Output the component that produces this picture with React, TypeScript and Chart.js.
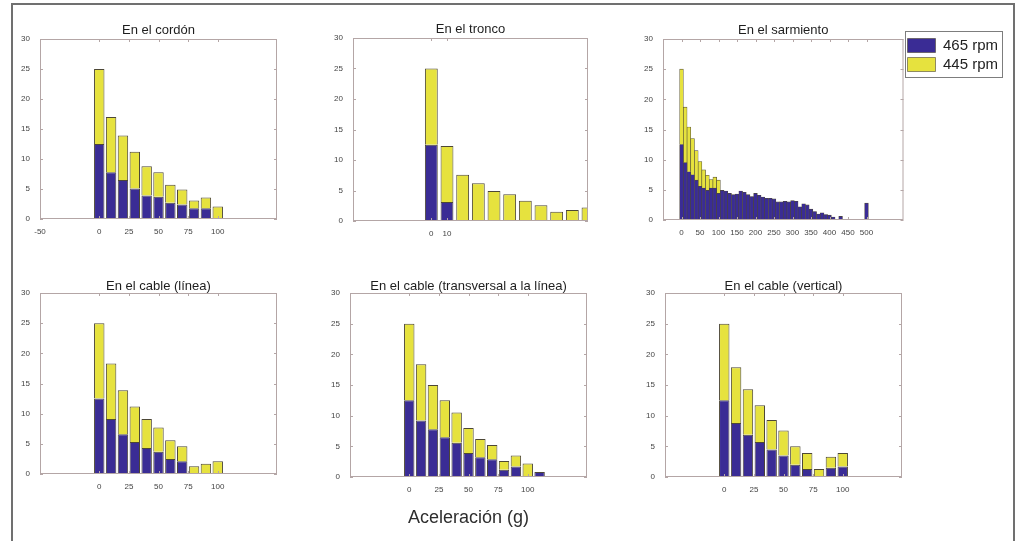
import React, { useEffect, useRef } from 'react';
import { Chart, registerables } from 'chart.js';

Chart.register(...registerables);

// ---------- data ----------
const SERIES_465 = '465 rpm';
const SERIES_445 = '445 rpm';

// En el cordón
const cordonBins = [0, 10, 20, 30, 40, 50, 60, 70, 80, 90, 100];
const cordon465 = [12.5, 7.8, 6.5, 5.1, 3.9, 3.7, 2.7, 2.4, 1.8, 1.8, 0];
const cordon445 = [12.5, 9.2, 7.4, 6.1, 4.9, 4.1, 3.0, 2.5, 1.3, 1.8, 2.1];
const cordonTicks = [-50, 0, 25, 50, 75, 100];

// En el tronco
const troncoBins = [0, 10, 20, 30, 40, 50, 60, 70, 80, 90, 100];
const tronco465 = [12.5, 3.1, 0, 0, 0, 0, 0, 0, 0, 0, 0];
const tronco445 = [12.5, 9.2, 7.6, 6.2, 4.9, 4.4, 3.3, 2.6, 1.5, 1.8, 2.2];
const troncoTicks = [0, 10];

// En el sarmiento
const sarmientoBins465 = [
  0, 10, 20, 30, 40, 50, 60, 70, 80, 90, 100, 110, 120, 130, 140, 150, 160,
  170, 180, 190, 200, 210, 220, 230, 240, 250, 260, 270, 280, 290, 300, 310,
  320, 330, 340, 350, 360, 370, 380, 390, 400, 410, 420, 430, 440, 450, 460,
  470, 480, 490, 500,
];
const sarmiento465 = [
  12.5, 9.5, 8.0, 7.5, 6.6, 5.6, 5.3, 4.9, 5.3, 5.3, 4.4, 4.9, 4.8, 4.4, 4.2,
  4.3, 4.8, 4.6, 4.2, 3.9, 4.4, 4.1, 3.8, 3.6, 3.6, 3.5, 3.0, 3.0, 3.1, 3.0,
  3.2, 3.1, 2.2, 2.7, 2.5, 1.8, 1.4, 1.0, 1.2, 0.9, 0.8, 0.5, 0, 0.6, 0, 0, 0,
  0, 0, 0, 2.8,
];
const sarmientoBins445 = [0, 10, 20, 30, 40, 50, 60, 70, 80, 90, 100];
const sarmiento445 = [12.5, 9.2, 7.4, 6.0, 4.9, 4.1, 3.0, 2.5, 1.4, 1.8, 2.2];
const sarmientoTicks = [0, 50, 100, 150, 200, 250, 300, 350, 400, 450, 500];

// En el cable (línea)
const lineaBins = [0, 10, 20, 30, 40, 50, 60, 70, 80, 90, 100];
const linea465 = [12.5, 9.1, 6.6, 5.3, 4.3, 3.7, 2.5, 2.1, 0, 0, 0];
const linea445 = [12.5, 9.2, 7.3, 5.9, 4.8, 4.0, 3.1, 2.5, 1.3, 1.7, 2.1];

// En el cable (transversal a la línea)
const transBins = [0, 10, 20, 30, 40, 50, 60, 70, 80, 90, 100, 110];
const trans465 = [12.5, 9.2, 7.8, 6.5, 5.6, 3.9, 3.2, 2.9, 1.2, 1.7, 0, 0.8];
const trans445 = [12.5, 9.2, 7.2, 6.0, 4.9, 4.1, 3.0, 2.3, 1.4, 1.8, 2.2, 0];

// En el cable (vertical)
const verticalBins = [0, 10, 20, 30, 40, 50, 60, 70, 80, 90, 100];
const vertical465 = [12.5, 8.8, 6.9, 5.7, 4.5, 3.5, 2.0, 1.3, 0, 1.5, 1.7];
const vertical445 = [12.5, 9.1, 7.4, 6.0, 4.8, 4.1, 3.0, 2.6, 1.3, 1.8, 2.2];

const cableTicks = [0, 25, 50, 75, 100];
const X_LABEL = 'Aceleración (g)';

// ---------- styles ----------
const FONT = "'Liberation Sans', Arial, Helvetica, sans-serif";
const BLUE = '#3a2c95';
const YELLOW = '#e6e23e';
const EDGE = '#4d4736';
const AXIS_BOX = '#b4a6a6';
const TICK_TEXT = '#444444';
const Y_AXIS_W = 40;
const TITLE_SIZE = 13;
const LEGEND_W = 95;
const LEGEND_PAD_RIGHT = 10;

type PanelCfg = {
  title: string;
  bins465: number[];
  v465: number[];
  bins445: number[];
  v445: number[];
  xMin: number;
  xMax: number;
  xTicks: number[];
  box: [number, number, number, number];
  titlePadBottom: number;
  barPct: number;
  edge: number;
  legend?: boolean;
  xTitle?: string;
};

const PANELS: PanelCfg[] = [
  { title: 'En el cordón', bins465: cordonBins, v465: cordon465, bins445: cordonBins, v445: cordon445,
    xMin: -50, xMax: 150, xTicks: cordonTicks, box: [40, 39, 277, 219], titlePadBottom: 2, barPct: 0.88, edge: 1 },
  { title: 'En el tronco', bins465: troncoBins, v465: tronco465, bins445: troncoBins, v445: tronco445,
    xMin: -50, xMax: 100, xTicks: troncoTicks, box: [353, 38, 588, 221], titlePadBottom: 2, barPct: 0.82, edge: 1 },
  { title: 'En el sarmiento', bins465: sarmientoBins465, v465: sarmiento465, bins445: sarmientoBins445, v445: sarmiento445,
    xMin: -50, xMax: 600, xTicks: sarmientoTicks, box: [663, 39, 902, 220], titlePadBottom: 2, barPct: 1, edge: 0.6, legend: true },
  { title: 'En el cable (línea)', bins465: lineaBins, v465: linea465, bins445: lineaBins, v445: linea445,
    xMin: -50, xMax: 150, xTicks: cableTicks, box: [40, 293, 277, 474], titlePadBottom: 0, barPct: 0.88, edge: 1 },
  { title: 'En el cable (transversal a la línea)', bins465: transBins, v465: trans465, bins445: transBins, v445: trans445,
    xMin: -50, xMax: 150, xTicks: cableTicks, box: [350, 293, 587, 477], titlePadBottom: 0, barPct: 0.88, edge: 1, xTitle: X_LABEL },
  { title: 'En el cable (vertical)', bins465: verticalBins, v465: vertical465, bins445: verticalBins, v445: vertical445,
    xMin: -50, xMax: 150, xTicks: cableTicks, box: [665, 293, 902, 477], titlePadBottom: 0, barPct: 0.88, edge: 1 },
];

const axesBox = {
  id: 'axesBox',
  afterDatasetsDraw(chart: any) {
    const { ctx, chartArea } = chart;
    const { left, top, right, bottom } = chartArea;
    const x = chart.scales.x;
    const y = chart.scales.y;
    ctx.save();
    ctx.strokeStyle = AXIS_BOX;
    ctx.lineWidth = 1;
    ctx.strokeRect(left + 0.5, top + 0.5, right - left - 1, bottom - top - 1);
    ctx.beginPath();
    x.ticks.forEach((t: any) => {
      const px = Math.round(x.getPixelForValue(t.value)) + 0.5;
      ctx.moveTo(px, bottom);
      ctx.lineTo(px, bottom - 3);
      ctx.moveTo(px, top);
      ctx.lineTo(px, top + 3);
    });
    y.ticks.forEach((t: any) => {
      const py = Math.round(y.getPixelForValue(t.value)) + 0.5;
      ctx.moveTo(left, py);
      ctx.lineTo(left + 3, py);
      ctx.moveTo(right, py);
      ctx.lineTo(right - 3, py);
    });
    ctx.stroke();
    ctx.restore();
  },
};

const legendFrame = {
  id: 'legendFrame',
  beforeDraw(chart: any) {
    const lg = chart.legend;
    if (!lg) return;
    const h = lg.height;
    lg.top = chart.chartArea.top - 5;
    lg.bottom = lg.top + h;
  },
  afterDraw(chart: any) {
    const lg = chart.legend;
    if (!lg) return;
    const ctx = chart.ctx;
    ctx.save();
    ctx.strokeStyle = '#7d7d7d';
    ctx.lineWidth = 1;
    const x0 = Math.round(lg.left) + 1.5;
    const x1 = Math.round(lg.left + lg.width) + 5.5;
    ctx.strokeRect(x0, Math.round(lg.top) - 2.5, x1 - x0, 46);
    ctx.restore();
  },
};

function Panel({ cfg }: { cfg: PanelCfg }) {
  const ref = useRef<HTMLCanvasElement>(null);
  const [L, T, R, B] = cfg.box;
  const titleH = TITLE_SIZE + 2 + cfg.titlePadBottom;
  const xH = cfg.xTitle ? 52 : 20;
  const padRight = cfg.legend ? LEGEND_PAD_RIGHT : 10;
  const canvasLeft = L - Y_AXIS_W;
  const canvasTop = T - titleH;
  const w = Math.round(R - canvasLeft + (cfg.legend ? LEGEND_W : 0) + padRight);
  const h = Math.round(B - canvasTop + xH);

  useEffect(() => {
    if (!ref.current) return;
    const tickFont = { size: 8, family: FONT };
    const chart = new Chart(ref.current, {
      type: 'bar',
      data: {
        datasets: [
          {
            label: SERIES_465,
            data: cfg.bins465.map((x, i) => ({ x, y: cfg.v465[i] })),
            backgroundColor: BLUE,
            borderColor: EDGE,
            borderWidth: cfg.edge,
            barPercentage: cfg.barPct,
            categoryPercentage: 1,
          },
          {
            label: SERIES_445,
            data: cfg.bins445.map((x, i) => ({ x, y: cfg.v445[i] })),
            backgroundColor: YELLOW,
            borderColor: EDGE,
            borderWidth: cfg.edge,
            barPercentage: cfg.barPct,
            categoryPercentage: 1,
          },
        ],
      },
      options: {
        responsive: false,
        animation: false,
        events: [],
        layout: { padding: { left: 0, top: 0, bottom: 0, right: padRight } },
        scales: {
          x: {
            type: 'linear',
            min: cfg.xMin,
            max: cfg.xMax,
            offset: false,
            stacked: true,
            grid: { display: false, drawTicks: false, offset: false },
            border: { display: false },
            ticks: {
              autoSkip: false,
              maxRotation: 0,
              minRotation: 0,
              padding: 8,
              font: tickFont,
              color: TICK_TEXT,
              callback: (v: any) => String(v),
            },
            afterBuildTicks: (s: any) => {
              s.ticks = cfg.xTicks.map((v) => ({ value: v }));
            },
            afterFit: (s: any) => {
              s.height = xH;
            },
            title: cfg.xTitle
              ? { display: true, text: cfg.xTitle, color: '#2e2e2e', font: { size: 18, family: FONT }, padding: 0 }
              : { display: false },
          },
          y: {
            type: 'linear',
            min: 0,
            max: 30,
            stacked: true,
            grid: { display: false, drawTicks: false },
            border: { display: false },
            ticks: {
              stepSize: 5,
              padding: 10,
              font: tickFont,
              color: TICK_TEXT,
              callback: (v: any) => String(v),
            },
            afterFit: (s: any) => {
              s.width = Y_AXIS_W;
            },
          },
        },
        plugins: {
          title: {
            display: true,
            text: cfg.title,
            fullSize: false,
            color: '#1e1e1e',
            font: { size: TITLE_SIZE, lineHeight: 1, family: FONT, weight: 'normal' },
            padding: { top: 2, bottom: cfg.titlePadBottom },
          },
          legend: cfg.legend
            ? {
                display: true,
                position: 'right',
                align: 'start',
                fullSize: false,
                labels: {
                  boxWidth: 28,
                  boxHeight: 14,
                  padding: 4,
                  color: '#222',
                  font: { size: 15, family: FONT },
                },
              }
            : { display: false },
          tooltip: { enabled: false },
        },
      } as any,
      plugins: cfg.legend ? [axesBox, legendFrame] : [axesBox],
    });
    return () => chart.destroy();
  }, []);

  return (
    <canvas
      ref={ref}
      width={w}
      height={h}
      style={{ position: 'absolute', left: canvasLeft, top: canvasTop, width: w, height: h }}
    />
  );
}

export default function App() {
  return (
    <div
      style={{
        position: 'absolute',
        left: 0,
        top: 0,
        width: 1021,
        height: 541,
        overflow: 'hidden',
        background: '#ffffff',
      }}
    >
      <div
        style={{
          position: 'absolute',
          left: 11,
          top: 3,
          width: 1000,
          height: 600,
          border: '2px solid #707070',
        }}
      />
      {PANELS.map((p) => (
        <Panel key={p.title} cfg={p} />
      ))}
    </div>
  );
}
